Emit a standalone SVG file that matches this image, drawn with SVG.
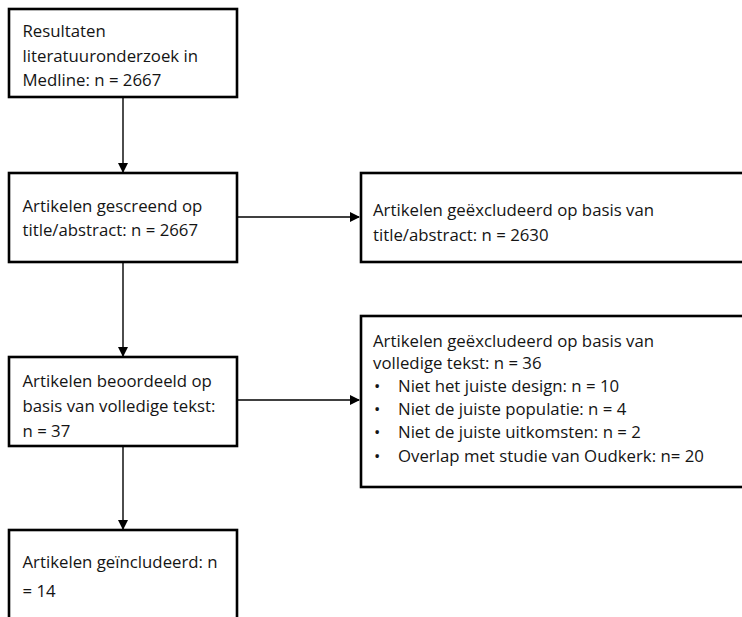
<svg xmlns="http://www.w3.org/2000/svg" width="742" height="617" viewBox="0 0 742 617">
<style>
.box{fill:#fff;stroke:#000;stroke-width:2.6}
.t{font-family:"Open Sans","Liberation Sans",sans-serif;font-size:16.8px;fill:#141414}
.c{stroke:#000;stroke-width:1.4;fill:none}
</style>
<defs>
<marker id="ah" markerWidth="10" markerHeight="10" refX="9" refY="5" orient="auto" markerUnits="userSpaceOnUse">
<path d="M0,0 L10,5 L0,10 Z" fill="#000"/>
</marker>
</defs>
<rect width="742" height="617" fill="#fff"/>
<g id="connectors">
<line class="c" x1="123" y1="97" x2="123" y2="172" marker-end="url(#ah)"/>
<line class="c" x1="237" y1="217" x2="359" y2="217" marker-end="url(#ah)"/>
<line class="c" x1="123" y1="262" x2="123" y2="356" marker-end="url(#ah)"/>
<line class="c" x1="237" y1="400" x2="359" y2="400" marker-end="url(#ah)"/>
<line class="c" x1="123" y1="446" x2="123" y2="529" marker-end="url(#ah)"/>
</g>
<g id="n1">
<rect class="box" x="9" y="9" width="228" height="88"/>
<text class="t" x="22.5" y="37">Resultaten</text>
<text class="t" x="22.5" y="62">literatuuronderzoek in</text>
<text class="t" x="22.5" y="86">Medline: n = 2667</text>
</g>
<g id="n2">
<rect class="box" x="9" y="173" width="228" height="89"/>
<text class="t" x="22.5" y="212">Artikelen gescreend op</text>
<text class="t" x="22.5" y="236">title/abstract: n = 2667</text>
</g>
<g id="n3">
<rect class="box" x="361" y="173" width="390" height="89"/>
<text class="t" x="373" y="216">Artikelen geëxcludeerd op basis van</text>
<text class="t" x="373" y="241">title/abstract: n = 2630</text>
</g>
<g id="n4">
<rect class="box" x="9" y="357" width="228" height="89"/>
<text class="t" x="22.5" y="387">Artikelen beoordeeld op</text>
<text class="t" x="22.5" y="412">basis van volledige tekst:</text>
<text class="t" x="22.5" y="437">n = 37</text>
</g>
<g id="n5">
<rect class="box" x="361" y="316" width="390" height="171"/>
<text class="t" x="373" y="347">Artikelen geëxcludeerd op basis van</text>
<text class="t" x="373" y="369">volledige tekst: n = 36</text>
<text class="t" x="374" y="392">•</text><text class="t" x="398" y="392">Niet het juiste design: n = 10</text>
<text class="t" x="374" y="415">•</text><text class="t" x="398" y="415">Niet de juiste populatie: n = 4</text>
<text class="t" x="374" y="438">•</text><text class="t" x="398" y="438">Niet de juiste uitkomsten: n = 2</text>
<text class="t" x="374" y="462">•</text><text class="t" x="398" y="462">Overlap met studie van Oudkerk: n= 20</text>
</g>
<g id="n6">
<rect class="box" x="9" y="530" width="228" height="100"/>
<text class="t" x="22.5" y="568">Artikelen geïncludeerd: n</text>
<text class="t" x="22.5" y="597">= 14</text>
</g>
</svg>
